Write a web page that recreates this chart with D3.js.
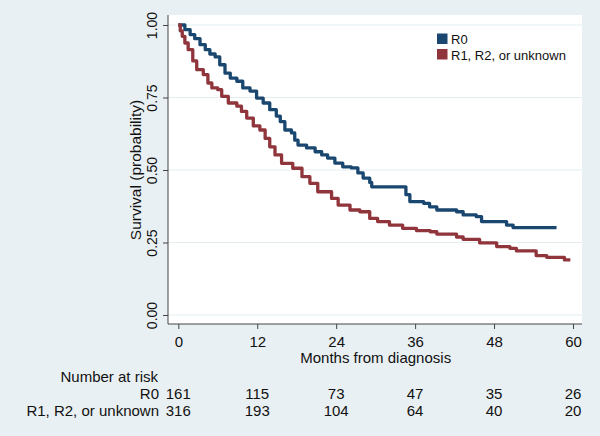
<!DOCTYPE html>
<meta charset="utf-8">
<script src="https://d3js.org/d3.v7.min.js"></script>
<style>
  body { margin: 0; background: #e9f0f3; }
  svg text { font-family: "Liberation Sans", Arial, sans-serif; fill: #111; }
</style>
<body>
<div id="my_dataviz"></div>
<script>
// Kaplan-Meier curves (months, survival)
var groups = ["R0", "R1, R2, or unknown"]
var r0Time = [0, 1.0, 1.8, 2.5, 3.3, 4.1, 4.8, 5.6, 6.3, 7.1, 7.9, 8.9, 9.8, 10.9, 11.9, 12.9, 13.9, 14.9, 15.5, 16.2, 17.2, 17.7, 18.2, 19.5, 20.8, 21.8, 22.7, 23.8, 25.0, 26.3, 27.3, 28.1, 29.1, 29.4, 34.6, 35.2, 37.3, 38.2, 39.3, 42.3, 43.3, 45.3, 46.1, 49.9, 50.9, 57.5]
var r0Surv = [1.0, 0.984, 0.967, 0.953, 0.932, 0.915, 0.900, 0.890, 0.863, 0.834, 0.817, 0.806, 0.783, 0.772, 0.748, 0.731, 0.708, 0.686, 0.667, 0.638, 0.628, 0.603, 0.586, 0.576, 0.563, 0.552, 0.541, 0.524, 0.511, 0.507, 0.490, 0.472, 0.457, 0.442, 0.415, 0.391, 0.385, 0.373, 0.362, 0.356, 0.345, 0.339, 0.322, 0.310, 0.301, 0.301]
var r1Time = [0, 0.3, 0.6, 1.0, 1.5, 2.2, 2.8, 3.8, 4.5, 5.1, 6.0, 6.6, 7.6, 8.9, 9.6, 10.4, 11.4, 12.4, 13.2, 13.9, 14.7, 15.7, 17.4, 18.8, 20.0, 21.2, 23.3, 24.3, 26.1, 27.6, 29.1, 30.3, 32.1, 34.1, 36.2, 38.3, 39.3, 42.3, 43.3, 45.8, 48.4, 50.4, 51.4, 54.4, 56.0, 58.7, 59.6]
var r1Surv = [1.0, 0.980, 0.961, 0.938, 0.915, 0.876, 0.846, 0.829, 0.800, 0.783, 0.777, 0.754, 0.731, 0.720, 0.702, 0.679, 0.652, 0.638, 0.609, 0.580, 0.552, 0.523, 0.506, 0.477, 0.454, 0.425, 0.402, 0.379, 0.362, 0.356, 0.333, 0.322, 0.310, 0.299, 0.291, 0.287, 0.279, 0.269, 0.261, 0.249, 0.236, 0.230, 0.221, 0.205, 0.199, 0.190, 0.190]

var xTicks = [0, 12, 24, 36, 48, 60]
var yTicks = [0, 0.25, 0.5, 0.75, 1]
var r0AtRisk = [161, 115, 73, 47, 35, 26]
var r1AtRisk = [316, 193, 104, 64, 40, 20]
var colors = ["#1a476f", "#90353b"]

var width = 600, height = 436
var plot = {left: 168, right: 582, top: 15, bottom: 324}

var svg = d3.select("#my_dataviz")
  .append("svg")
  .attr("width", width)
  .attr("height", height)

svg.append("rect")
  .attr("width", width).attr("height", height)
  .attr("fill", "#e9f0f3")

svg.append("rect")
  .attr("x", plot.left).attr("y", plot.top)
  .attr("width", plot.right - plot.left)
  .attr("height", plot.bottom - plot.top)
  .attr("fill", "#ffffff")

var x = d3.scaleLinear().domain([0, 60]).range([178.3, 573])
var y = d3.scaleLinear().domain([0, 1]).range([315, 25])

// grid lines
svg.selectAll(".grid")
  .data(yTicks)
  .enter()
  .append("line")
  .attr("x1", plot.left).attr("x2", plot.right)
  .attr("y1", function(d) { return y(d) }).attr("y2", function(d) { return y(d) })
  .attr("stroke", "#e4eef1")
  .attr("stroke-width", 1.2)

// y axis
var yAxis = svg.append("g")
  .attr("transform", "translate(" + plot.left + ",0)")
  .call(d3.axisLeft(y).tickValues(yTicks).tickFormat(d3.format(".2f")).tickSize(5).tickPadding(7))
yAxis.select(".domain").attr("d", "M0," + plot.top + "V" + plot.bottom).attr("stroke", "#444")
yAxis.selectAll(".tick line").attr("stroke", "#444")
yAxis.selectAll(".tick text")
  .attr("transform", "rotate(-90)")
  .attr("x", 0)
  .attr("y", -11)
  .attr("dy", 0)
  .attr("text-anchor", "middle")
  .style("font-size", "14px")

// x axis
var xAxis = svg.append("g")
  .attr("transform", "translate(0," + plot.bottom + ")")
  .call(d3.axisBottom(x).tickValues(xTicks).tickSize(5).tickPadding(5))
xAxis.select(".domain").attr("d", "M" + plot.left + ",0H" + plot.right).attr("stroke", "#444")
xAxis.selectAll(".tick line").attr("stroke", "#444")
xAxis.selectAll(".tick text")
  .attr("y", 23).attr("dy", 0)
  .style("font-size", "15px")
svg.selectAll(".tick text").attr("fill", "#111")

svg.append("text")
  .attr("x", 375.7).attr("y", 363)
  .attr("text-anchor", "middle")
  .style("font-size", "15px")
  .text("Months from diagnosis")

svg.append("text")
  .attr("transform", "translate(141,170) rotate(-90)")
  .attr("text-anchor", "middle")
  .style("font-size", "15.5px")
  .text("Survival (probability)")

// survival curves
var line = d3.line()
  .x(function(d) { return x(d[0]) })
  .y(function(d) { return y(d[1]) })
  .curve(d3.curveStepAfter)

var series = [d3.zip(r0Time, r0Surv), d3.zip(r1Time, r1Surv)]
svg.selectAll(".km")
  .data(series)
  .enter()
  .append("path")
  .attr("d", line)
  .attr("fill", "none")
  .attr("stroke", function(d, i) { return colors[i] })
  .attr("stroke-width", 3.3)
  .attr("stroke-linejoin", "round")

// legend
var legend = svg.selectAll(".legend")
  .data(groups)
  .enter()
  .append("g")
  .attr("transform", function(d, i) { return "translate(437," + (33.5 + i * 15.5) + ")" })
legend.append("rect")
  .attr("width", 10.5).attr("height", 10.5)
  .attr("fill", function(d, i) { return colors[i] })
legend.append("text")
  .attr("x", 14).attr("y", 10.8)
  .style("font-size", "13px")
  .text(function(d) { return d })

// number at risk table
svg.append("text")
  .attr("x", 158).attr("y", 382)
  .attr("text-anchor", "end")
  .style("font-size", "15px")
  .text("Number at risk")

var rows = [r0AtRisk, r1AtRisk]
rows.forEach(function(vals, r) {
  var yy = 399 + r * 17
  svg.append("text")
    .attr("x", 159).attr("y", yy)
    .attr("text-anchor", "end")
    .style("font-size", "15px")
    .text(groups[r])
  svg.selectAll(".risk" + r)
    .data(vals)
    .enter()
    .append("text")
    .attr("x", function(d, i) { return x(xTicks[i]) })
    .attr("y", yy)
    .attr("text-anchor", "middle")
    .style("font-size", "15px")
    .text(function(d) { return d })
})
</script>
</body>
